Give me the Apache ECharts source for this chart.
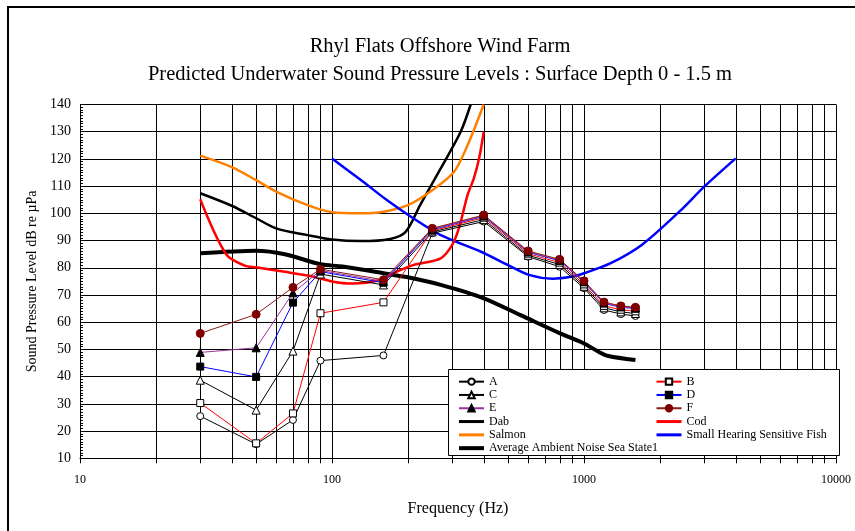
<!DOCTYPE html>
<html>
<head>
<meta charset="utf-8">
<script src="https://cdn.jsdelivr.net/npm/echarts/dist/echarts.min.js"></script>
<style>
  html, body { margin: 0; padding: 0; background: #fff; }
  #chart { position: absolute; left: 0; top: 0; width: 855px; height: 531px; }
  #frame { position: absolute; left: 7px; top: 6px; width: 900px; height: 600px;
           border-left: 2px solid #000; border-top: 2px solid #000; pointer-events: none; }
</style>
</head>
<body>
<div id="chart"></div>
<div id="frame"></div>
<script>
// Predicted levels at each measured frequency band (Hz)
const freqAF = [30, 50, 70, 90, 160, 250, 400, 600, 800, 1000, 1200, 1400, 1600];
const valA = [25.5, 15.2, 24.1, 45.9, 47.8, 92.7, 97.0, 84.1, 80.4, 72.5, 64.5, 63.0, 62.3];
const valB = [30.3, 15.5, 26.5, 63.3, 67.3, 93.6, 98.4, 85.2, 81.9, 73.9, 66.0, 64.6, 64.0];
const valC = [38.7, 27.7, 49.4, 77.7, 73.7, 93.2, 97.7, 84.6, 81.2, 73.2, 65.3, 63.8, 63.2];
const valD = [43.7, 39.9, 67.2, 78.6, 74.5, 94.0, 98.9, 85.7, 82.6, 74.7, 66.9, 65.5, 65.0];
const valE = [48.9, 50.6, 70.8, 79.0, 75.0, 94.2, 99.1, 85.9, 82.8, 74.9, 67.1, 65.7, 65.2];
const valF = [55.9, 62.9, 72.8, 79.5, 75.6, 94.5, 99.4, 86.2, 83.1, 75.2, 67.4, 66.0, 65.5];

// Hearing threshold curves
const dabFreq = [30, 40, 50, 60, 80, 100, 130, 170, 196, 224, 270, 324, 355];
const dabVal  = [107.4, 102.8, 98.2, 94.5, 92.0, 90.4, 89.8, 90.6, 93.2, 103.1, 116.5, 130.0, 140.0];

const codFreq = [30, 38, 45, 50, 64, 82, 100, 120, 155, 181, 210, 270, 300, 320, 345, 366, 385, 400];
const codVal  = [105.2, 85.0, 80.8, 80.2, 78.6, 77.0, 75.0, 74.2, 75.5, 78.6, 81.0, 83.5, 88.4, 95.0, 106.7, 113.0, 121.0, 130.0];

const salmonFreq = [30, 40, 50, 60, 80, 100, 130, 160, 200, 250, 305, 345, 400];
const salmonVal  = [121.2, 117.0, 112.2, 108.0, 103.0, 100.4, 100.0, 100.6, 103.0, 108.5, 115.3, 125.0, 140.0];

const fishFreq = [100, 133, 165, 210, 270, 390, 500, 610, 750, 900, 1000, 1270, 1700, 2400, 3000, 4000];
const fishVal  = [120.2, 111.6, 104.9, 98.2, 92.0, 85.9, 81.0, 77.3, 76.0, 76.8, 78.0, 81.6, 88.5, 100.8, 109.8, 120.2];

// Background noise level
const noiseFreq = [30, 50, 65, 90, 110, 160, 200, 270, 400, 560, 800, 1000, 1150, 1250, 1600];
const noiseVal  = [85.3, 86.3, 85.0, 81.3, 80.5, 78.0, 76.5, 73.7, 68.8, 62.6, 56.0, 52.2, 49.0, 47.6, 46.1];

// Axis ranges and intermediate log decade lines
const xMin = 10, xMax = 10000;
const yMin = 10, yMax = 140, yStep = 10;
const minorFreqs = [20, 30, 40, 50, 60, 70, 80, 90, 200, 300, 400, 500, 600, 700, 800, 900,
                    2000, 3000, 4000, 5000, 6000, 7000, 8000, 9000];

const FONT = "'Liberation Serif', 'Times New Roman', serif";
const pairs = (xs, ys) => xs.map((x, i) => [x, ys[i]]);

function markerSeries(name, vals, lineColor, symbol, fill, size) {
  return {
    name, type: 'line', data: pairs(freqAF, vals),
    symbol, symbolSize: size, showSymbol: true,
    lineStyle: { color: lineColor, width: 1 },
    itemStyle: { color: fill, borderColor: fill === '#fff' ? '#000' : fill, borderWidth: 1 },
    z: 5
  };
}
function curveSeries(name, xs, ys, color, width) {
  return {
    name, type: 'line', data: pairs(xs, ys),
    symbol: 'none', smooth: 0.3,
    lineStyle: { color, width },
    itemStyle: { color },
    z: 3
  };
}

const chart = echarts.init(document.getElementById('chart'), null, { renderer: 'canvas' });

const legendText = { fontFamily: FONT, fontSize: 12, color: '#000', lineHeight: 13.3 };
// Legend entry showing only the curve's line, at the given thickness
const lineOnly = (name, w) => ({
  name,
  itemStyle: { color: 'rgba(0,0,0,0)', borderColor: 'rgba(0,0,0,0)', borderWidth: 0 },
  lineStyle: { width: w }
});

chart.setOption({
  animation: false,
  title: {
    text: 'Rhyl Flats Offshore Wind Farm\nPredicted Underwater Sound Pressure Levels : Surface Depth 0 - 1.5 m',
    left: 440, top: 33, padding: 0, textAlign: 'center',
    textStyle: { fontFamily: FONT, fontSize: 20.5, fontWeight: 'normal', color: '#000', lineHeight: 28 }
  },
  grid: { left: 80, right: 19, top: 104.5, bottom: 72.7, outerBoundsMode: 'none' },
  xAxis: {
    type: 'log', logBase: 10, min: xMin, max: xMax,
    name: 'Frequency (Hz)', nameLocation: 'middle', nameGap: 42,
    nameTextStyle: { fontFamily: FONT, fontSize: 16, color: '#000' },
    axisLine: { lineStyle: { color: '#000', width: 1 } },
    axisTick: { show: true, inside: false, length: 5, lineStyle: { color: '#000' } },
    axisLabel: { fontFamily: FONT, fontSize: 12, color: '#000', margin: 16,
                 showMinLabel: true, showMaxLabel: true,
                 formatter: v => String(Math.round(v)) },
    splitLine: { show: true, lineStyle: { color: '#000', width: 1 } },
    minorTick: { show: false }, minorSplitLine: { show: false }
  },
  yAxis: {
    type: 'value', min: yMin, max: yMax, interval: yStep,
    name: 'Sound Pressure Level dB re µPa', nameLocation: 'middle', nameGap: 40,
    nameTextStyle: { fontFamily: FONT, fontSize: 14, color: '#000' },
    axisLine: { show: true, lineStyle: { color: '#000', width: 1 } },
    axisTick: { show: true, inside: true, length: 5, lineStyle: { color: '#000' } },
    minorTick: { show: true, splitNumber: 10, length: 3, lineStyle: { color: '#000' } },
    axisLabel: { fontFamily: FONT, fontSize: 14, color: '#000', margin: 9 },
    splitLine: { show: true, lineStyle: { color: '#000', width: 1 } }
  },
  legend: [
    {
      left: 452, top: 370, orient: 'vertical', itemWidth: 25, itemHeight: 8, itemGap: 0,
      textStyle: legendText, z: 10, selectedMode: false,
      data: ['A', 'C', 'E', lineOnly('Dab', 3), lineOnly('Salmon', 3),
             lineOnly('Average Ambient Noise Sea State1', 4)]
    },
    {
      left: 650, top: 370, orient: 'vertical', itemWidth: 25, itemHeight: 8, itemGap: 0,
      textStyle: legendText, z: 10, selectedMode: false,
      data: ['B', 'D', 'F', lineOnly('Cod', 3), lineOnly('Small Hearing Sensitive Fish', 3)]
    }
  ],
  graphic: [{
    type: 'rect', z: 9, zlevel: 0,
    shape: { x: 448.5, y: 369.5, width: 391, height: 86 },
    style: { fill: '#fff', stroke: '#000', lineWidth: 1 }
  }],
  series: [
    {
      name: 'minorGrid', type: 'custom', silent: true, clip: false, z: 1,
      data: minorFreqs.map(f => [f]),
      renderItem: function (params, api) {
        const f = api.value(0);
        const top = api.coord([f, yMax]);
        const bot = api.coord([f, yMin]);
        const x = Math.round(top[0]) + 0.5;
        return {
          type: 'line',
          shape: { x1: x, y1: top[1], x2: x, y2: bot[1] + 5 },
          style: { stroke: '#000', lineWidth: 1 }
        };
      }
    },
    curveSeries('Dab', dabFreq, dabVal, '#000', 2.5),
    curveSeries('Salmon', salmonFreq, salmonVal, '#ff8000', 2.5),
    curveSeries('Small Hearing Sensitive Fish', fishFreq, fishVal, '#0000ff', 2.5),
    curveSeries('Average Ambient Noise Sea State1', noiseFreq, noiseVal, '#000', 4),
    curveSeries('Cod', codFreq, codVal, '#ff0000', 2.5),
    markerSeries('A', valA, '#000', 'circle', '#fff', 7),
    markerSeries('C', valC, '#000', 'triangle', '#fff', 8),
    markerSeries('B', valB, '#ff0000', 'rect', '#fff', 7),
    markerSeries('D', valD, '#0000ff', 'rect', '#000', 7),
    markerSeries('E', valE, '#993399', 'triangle', '#000', 8),
    markerSeries('F', valF, '#8b1a1a', 'circle', '#800000', 8)
  ]
});
</script>
</body>
</html>
